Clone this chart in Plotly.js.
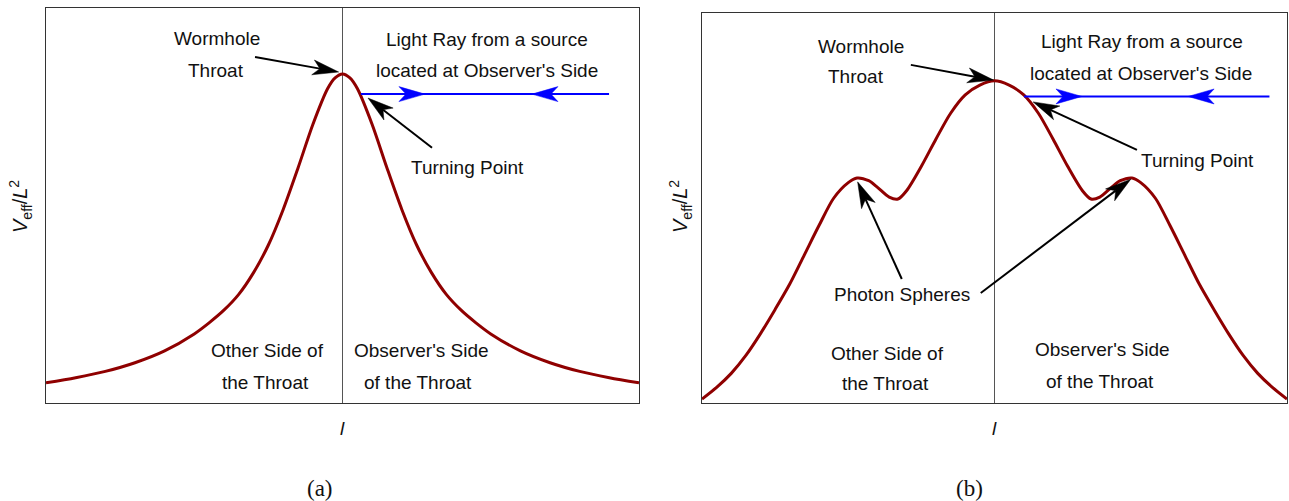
<!DOCTYPE html>
<html>
<head>
<meta charset="utf-8">
<script src="https://cdn.plot.ly/plotly-3.0.1.min.js"></script>
<style>html,body{margin:0;padding:0;background:#fff;}#chart{width:1289px;height:501px;}</style>
</head>
<body>
<div id="chart"></div>
<script>
// ---- Data (arbitrary units: l in [-1,1], V_eff/L^2 in [0,1]) ----
const lA = [-1, -0.9, -0.8, -0.7, -0.6, -0.5, -0.45, -0.4, -0.35, -0.3, -0.25, -0.2, -0.15, -0.1, -0.05, -0.025, 0,
            0.025, 0.05, 0.1, 0.15, 0.2, 0.25, 0.3, 0.35, 0.4, 0.45, 0.5, 0.6, 0.7, 0.8, 0.9, 1];
const vA = [0.051, 0.064, 0.080, 0.102, 0.132, 0.175, 0.203, 0.235, 0.275, 0.330, 0.400, 0.490, 0.595, 0.705, 0.796, 0.823, 0.833,
            0.823, 0.796, 0.705, 0.595, 0.490, 0.400, 0.330, 0.275, 0.235, 0.203, 0.175, 0.132, 0.102, 0.080, 0.064, 0.051];

const lB = [-1, -0.95, -0.9, -0.85, -0.8, -0.75, -0.7, -0.65, -0.6, -0.55, -0.5, -0.47, -0.43, -0.4, -0.36, -0.33, -0.3, -0.25, -0.2, -0.15, -0.1, -0.05, 0,
            0.05, 0.1, 0.15, 0.2, 0.25, 0.3, 0.33, 0.36, 0.4, 0.43, 0.47, 0.5, 0.55, 0.6, 0.65, 0.7, 0.75, 0.8, 0.85, 0.9, 0.95, 1];
const vB = [0.010, 0.040, 0.076, 0.122, 0.178, 0.240, 0.305, 0.380, 0.455, 0.525, 0.565, 0.577, 0.570, 0.553, 0.528, 0.523, 0.545, 0.607, 0.677, 0.743, 0.790, 0.815, 0.826,
            0.815, 0.790, 0.743, 0.677, 0.607, 0.545, 0.523, 0.528, 0.553, 0.570, 0.577, 0.565, 0.525, 0.455, 0.380, 0.305, 0.240, 0.178, 0.122, 0.076, 0.040, 0.010];

// light ray (turning point level and extent)
const rayA = {l: [0.062, 0.899], v: 0.782, headsRight: [0.278], headsLeft: [0.639]};
const rayB = {l: [0.101, 0.940], v: 0.786, headsRight: [0.299], headsLeft: [0.662]};

// text labels [text, l, v]
const labelsA = [
  ["Wormhole", -0.423, 0.922], ["Throat", -0.425, 0.841],
  ["Light Ray from a source", 0.487, 0.919], ["located at Observer's Side", 0.487, 0.841],
  ["Turning Point", 0.42, 0.595],
  ["Other Side of", -0.253, 0.132], ["the Throat", -0.261, 0.053],
  ["Observer's Side", 0.265, 0.132], ["of the Throat", 0.255, 0.053]
];
const labelsB = [
  ["Wormhole", -0.456, 0.915], ["Throat", -0.474, 0.836],
  ["Light Ray from a source", 0.503, 0.928], ["located at Observer's Side", 0.501, 0.846],
  ["Turning Point", 0.694, 0.621],
  ["Photon Spheres", -0.315, 0.277],
  ["Other Side of", -0.366, 0.128], ["the Throat", -0.373, 0.049],
  ["Observer's Side", 0.369, 0.138], ["of the Throat", 0.359, 0.056]
];
// pointer arrows [tail, tip]
const arrowsA = [
  [[-0.295, 0.876], [-0.013, 0.838]],
  [[0.302, 0.646], [0.086, 0.772]]
];
const arrowsB = [
  [[-0.286, 0.867], [-0.003, 0.828]],
  [[0.487, 0.649], [0.132, 0.772]],
  [[-0.317, 0.318], [-0.468, 0.567]],
  [[-0.047, 0.282], [0.466, 0.574]]
];

// ---- Layout geometry ----
const W = 1289, H = 501;
const domXA = [46 / W, 639 / W], domYA = [(H - 403) / H, (H - 8) / H];
const domXB = [702 / W, 1287 / W], domYB = [(H - 403) / H, (H - 13) / H];
const xr = [-1, 1], yr = [0, 1];

const FONT = "Liberation Sans, Arial, sans-serif";
const CURVE = "#8f0000";

function pxPerUnit(dom, size, rng) { return (dom[1] - dom[0]) * size / (rng[1] - rng[0]); }
const scale = {
  x: pxPerUnit(domXA, W, xr), y: pxPerUnit(domYA, H, yr),
  x2: pxPerUnit(domXB, W, xr), y2: pxPerUnit(domYB, H, yr)
};

const shapes = [];
const annotations = [];

function head(xref, yref, tip, ux, uy, color) {
  const L = 26, Wd = 7.5, N = 19;
  const nx = -uy, ny = ux;
  const c1 = [-L * ux + Wd * nx, -L * uy + Wd * ny];
  const c2 = [-L * ux - Wd * nx, -L * uy - Wd * ny];
  const nt = [-N * ux, -N * uy];
  const f = v => v.toFixed(2);
  shapes.push({
    type: 'path', xref: xref, yref: yref, xsizemode: 'pixel', ysizemode: 'pixel',
    xanchor: tip[0], yanchor: tip[1],
    path: `M0,0 L${f(c1[0])},${f(c1[1])} L${f(nt[0])},${f(nt[1])} L${f(c2[0])},${f(c2[1])} Z`,
    fillcolor: color, line: {color: color, width: 0.5}, layer: 'above'
  });
  return [tip[0] + nt[0] / scale[xref], tip[1] + nt[1] / scale[yref]];
}

function pointer(xref, yref, tail, tip) {
  const dx = (tip[0] - tail[0]) * scale[xref];
  const dy = (tip[1] - tail[1]) * scale[yref];
  const len = Math.hypot(dx, dy);
  const back = head(xref, yref, tip, dx / len, dy / len, '#000');
  shapes.push({type: 'line', xref: xref, yref: yref, x0: tail[0], y0: tail[1], x1: back[0], y1: back[1],
               line: {color: '#000', width: 2}, layer: 'above'});
}

function ray(xref, yref, r) {
  shapes.push({type: 'line', xref: xref, yref: yref, x0: r.l[0], y0: r.v, x1: r.l[1], y1: r.v,
               line: {color: '#0000ff', width: 2}, layer: 'above'});
  r.headsRight.forEach(p => head(xref, yref, [p, r.v], 1, 0, '#0000ff'));
  r.headsLeft.forEach(p => head(xref, yref, [p, r.v], -1, 0, '#0000ff'));
}

function panel(xref, yref, labels, arrows, r) {
  // throat line
  shapes.push({type: 'line', xref: xref, yref: yref, x0: 0, x1: 0, y0: 0, y1: 1,
               line: {color: '#555', width: 1}, layer: 'below'});
  labels.forEach(([t, x, y]) => annotations.push({
    text: t, x: x, y: y, xref: xref, yref: yref, showarrow: false,
    xanchor: 'center', yanchor: 'middle', font: {family: FONT, size: 19, color: '#111'}
  }));
  arrows.forEach(([a, b]) => pointer(xref, yref, a, b));
  ray(xref, yref, r);
}

panel('x', 'y', labelsA, arrowsA, rayA);
panel('x2', 'y2', labelsB, arrowsB, rayB);

// axis titles and captions
const yTitle = "<i>V</i><sub>eff</sub>/<i>L</i><sup>2</sup>";
annotations.push({text: yTitle, xref: 'paper', yref: 'paper', x: 20 / W, y: 1 - 207 / H, textangle: -90,
                  showarrow: false, xanchor: 'center', yanchor: 'middle', font: {family: FONT, size: 20, color: '#111'}});
annotations.push({text: yTitle, xref: 'paper', yref: 'paper', x: 680 / W, y: 1 - 207 / H, textangle: -90,
                  showarrow: false, xanchor: 'center', yanchor: 'middle', font: {family: FONT, size: 20, color: '#111'}});
annotations.push({text: "<i>l</i>", xref: 'x', yref: 'paper', x: 0, y: 1 - 428 / H, showarrow: false,
                  xanchor: 'center', yanchor: 'middle', font: {family: FONT, size: 19, color: '#111'}});
annotations.push({text: "<i>l</i>", xref: 'x2', yref: 'paper', x: 0, y: 1 - 428 / H, showarrow: false,
                  xanchor: 'center', yanchor: 'middle', font: {family: FONT, size: 19, color: '#111'}});
annotations.push({text: "(a)", xref: 'paper', yref: 'paper', x: 320 / W, y: 1 - 488 / H, showarrow: false,
                  xanchor: 'center', yanchor: 'middle', font: {family: "Liberation Serif, DejaVu Serif, serif", size: 23, color: '#111'}});
annotations.push({text: "(b)", xref: 'paper', yref: 'paper', x: 969 / W, y: 1 - 488 / H, showarrow: false,
                  xanchor: 'center', yanchor: 'middle', font: {family: "Liberation Serif, DejaVu Serif, serif", size: 23, color: '#111'}});

const axisBase = {range: xr, showgrid: false, zeroline: false, showticklabels: false, ticks: '',
                  showline: true, mirror: true, linecolor: '#333', linewidth: 1, fixedrange: true};

const traces = [
  {x: lA, y: vA, type: 'scatter', mode: 'lines', line: {color: CURVE, width: 3, shape: 'spline', smoothing: 0.8},
   xaxis: 'x', yaxis: 'y', hoverinfo: 'skip', showlegend: false},
  {x: lB, y: vB, type: 'scatter', mode: 'lines', line: {color: CURVE, width: 3, shape: 'spline', smoothing: 0.8},
   xaxis: 'x2', yaxis: 'y2', hoverinfo: 'skip', showlegend: false}
];

const layout = {
  width: W, height: H, margin: {l: 0, r: 0, t: 0, b: 0, pad: 0},
  paper_bgcolor: '#fff', plot_bgcolor: '#fff', showlegend: false,
  xaxis: Object.assign({}, axisBase, {domain: domXA, anchor: 'y'}),
  yaxis: Object.assign({}, axisBase, {domain: domYA, range: yr, anchor: 'x'}),
  xaxis2: Object.assign({}, axisBase, {domain: domXB, anchor: 'y2'}),
  yaxis2: Object.assign({}, axisBase, {domain: domYB, range: yr, anchor: 'x2'}),
  shapes: shapes, annotations: annotations
};

Plotly.newPlot('chart', traces, layout, {staticPlot: true, displayModeBar: false});
</script>
</body>
</html>
